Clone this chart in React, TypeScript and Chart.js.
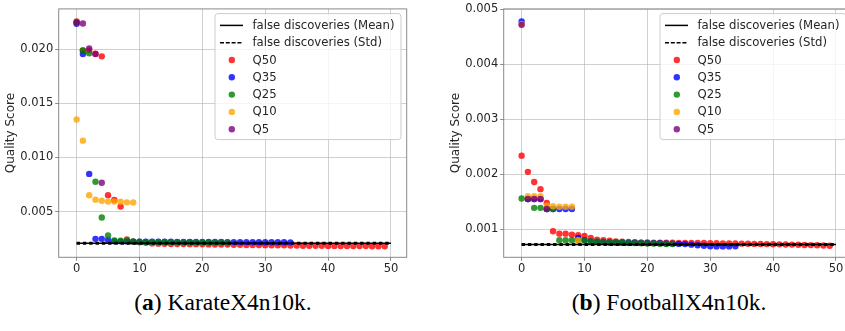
import React, { useEffect, useRef } from "react";
import { Chart, registerables } from "chart.js";
Chart.register(...registerables);

// ---------- data ----------
const lineX = [0, 50];
const xTicks = [0, 10, 20, 30, 40, 50];

const karateMean = 0.00207;
const karateYTicks = [0.005, 0.01, 0.015, 0.02];
const karateQ50 = [
  0.02259, 0.0199, 0.0199, 0.0196, 0.01936, 0.0065, 0.00607, 0.00546, 0.00241, 0.00222,
  0.00215, 0.0021, 0.00205, 0.00203, 0.00202, 0.002, 0.002, 0.00199, 0.00198, 0.00198,
  0.00197, 0.00196, 0.00195, 0.00195, 0.00194, 0.00193, 0.00192, 0.00191, 0.0019, 0.0019,
  0.00189, 0.00188, 0.00187, 0.00187, 0.00186, 0.00185, 0.00184, 0.00184, 0.00183, 0.00183,
  0.00182, 0.00182, 0.00181, 0.00181, 0.0018, 0.0018, 0.0018, 0.00179, 0.00179, 0.00178,
];
const karateQ35 = [
  0.02238, 0.01957, 0.00848, 0.00247, 0.00247, 0.00235, 0.00225, 0.00224, 0.00223, 0.00222,
  0.00221, 0.00221, 0.0022, 0.0022, 0.0022, 0.0022, 0.00219, 0.00219, 0.00219, 0.00219,
  0.00218, 0.00218, 0.00218, 0.00218, 0.00217, 0.00217, 0.00217, 0.00217, 0.00217, 0.00216,
  0.00216, 0.00216, 0.00216, 0.00216, 0.00215,
];
const karateQ25 = [
  0.0225, 0.01991, 0.01964, 0.00775, 0.00445, 0.00278, 0.00232, 0.0023, 0.0023, 0.00223,
  0.0022, 0.00219, 0.00219, 0.00218, 0.00218, 0.00217, 0.00217, 0.00216, 0.00216, 0.00215,
  0.00215, 0.00214, 0.00214, 0.00213, 0.00213,
];
const karateQ10 = [0.01351, 0.01156, 0.0065, 0.0061, 0.006, 0.00592, 0.00592, 0.0059, 0.00585, 0.00583];
const karateQ5 = [0.0225, 0.0224, 0.0201, 0.01957, 0.00766];

const footballMean = 0.000724;
const footballYTicks = [0.001, 0.002, 0.003, 0.004, 0.005];
const footballQ50 = [
  0.00234, 0.002045, 0.00186, 0.00173, 0.00148, 0.000964, 0.00092, 0.00092, 0.0009, 0.00089,
  0.00088, 0.00084, 0.00081, 0.0008, 0.00079, 0.00078, 0.000775, 0.00077, 0.000765, 0.00076,
  0.000758, 0.000757, 0.000756, 0.000755, 0.000754, 0.000753, 0.000752, 0.000751, 0.00075, 0.00075,
  0.000748, 0.000746, 0.000744, 0.000742, 0.00074, 0.000738, 0.000736, 0.000734, 0.000732, 0.00073,
  0.000728, 0.000726, 0.000724, 0.000721, 0.000718, 0.000715, 0.000712, 0.000709, 0.000705, 0.0007,
];
const footballQ35 = [
  0.00478, 0.00155, 0.00155, 0.00155, 0.00137, 0.00137, 0.00137, 0.00137, 0.00137, 0.00084,
  0.0008, 0.00078, 0.00077, 0.00077, 0.00076, 0.00076, 0.000758, 0.000756, 0.000754, 0.000752,
  0.00075, 0.000748, 0.000745, 0.000742, 0.000738, 0.000734, 0.00073, 0.00072, 0.00071, 0.0007,
  0.00069, 0.000688, 0.000688, 0.000688, 0.00069,
];
const footballQ25 = [
  0.00156, 0.00155, 0.00139, 0.00139, 0.00137, 0.00137, 0.0008, 0.0008, 0.0008, 0.0008,
  0.0008, 0.00078, 0.00078, 0.00077, 0.00076, 0.00076, 0.000755, 0.00075, 0.000748, 0.000745,
  0.000742, 0.00074, 0.000737, 0.000733, 0.00073,
];
const footballQ10 = [0.00473, 0.0016, 0.0016, 0.0016, 0.00143, 0.00142, 0.00141, 0.00141, 0.00141, 0.0008];
const footballQ5 = [0.00472, 0.00155, 0.00155, 0.00155, 0.00137];

const seriesNames = ["Q50", "Q35", "Q25", "Q10", "Q5"];
const seriesColors = [
  "rgba(255,0,0,0.8)",
  "rgba(0,0,255,0.8)",
  "rgba(0,128,0,0.8)",
  "rgba(255,165,0,0.8)",
  "rgba(128,0,128,0.8)",
];
const lineLabels = ["false discoveries (Mean)", "false discoveries (Std)"];

// ---------- style ----------
const FONT = "'DejaVu Sans', sans-serif";
const TEXT = "#262626";
const SPINE = "#8a8a8a";
const GRID = "rgba(176,176,176,0.6)";

const frameAndLegend = {
  id: "frameAndLegend",
  afterDraw(chart: any) {
    const { ctx, chartArea } = chart;
    ctx.save();
    // frame
    ctx.strokeStyle = SPINE;
    ctx.lineWidth = 1;
    ctx.strokeRect(chartArea.left, chartArea.top, chartArea.right - chartArea.left, chartArea.bottom - chartArea.top);
    // legend
    const w = 186;
    const h = 126;
    const x0 = chartArea.right - 5.7 - w;
    const y0 = chartArea.top + 4.7;
    const r = 3;
    ctx.beginPath();
    ctx.moveTo(x0 + r, y0);
    ctx.lineTo(x0 + w - r, y0);
    ctx.arcTo(x0 + w, y0, x0 + w, y0 + r, r);
    ctx.lineTo(x0 + w, y0 + h - r);
    ctx.arcTo(x0 + w, y0 + h, x0 + w - r, y0 + h, r);
    ctx.lineTo(x0 + r, y0 + h);
    ctx.arcTo(x0, y0 + h, x0, y0 + h - r, r);
    ctx.lineTo(x0, y0 + r);
    ctx.arcTo(x0, y0, x0 + r, y0, r);
    ctx.closePath();
    ctx.fillStyle = "rgba(255,255,255,0.8)";
    ctx.fill();
    ctx.strokeStyle = "#cccccc";
    ctx.stroke();

    ctx.font = `11.7px ${FONT}`;
    ctx.textBaseline = "middle";
    ctx.textAlign = "left";
    const labels = [...lineLabels, ...seriesNames];
    labels.forEach((lab, i) => {
      const cy = y0 + 11.8 + 17.3 * i;
      if (i < 2) {
        ctx.beginPath();
        ctx.strokeStyle = "#000";
        ctx.lineWidth = 1.5;
        ctx.setLineDash(i === 1 ? [4, 1.8] : []);
        ctx.moveTo(x0 + 5, cy);
        ctx.lineTo(x0 + 28, cy);
        ctx.stroke();
        ctx.setLineDash([]);
      } else {
        ctx.beginPath();
        ctx.fillStyle = seriesColors[i - 2];
        ctx.arc(x0 + 16.8, cy, 3.2, 0, Math.PI * 2);
        ctx.fill();
      }
      ctx.fillStyle = TEXT;
      ctx.fillText(lab, x0 + 37.5, cy + 0.5);
    });
    ctx.restore();
  },
};

type PanelData = {
  mean: number;
  series: number[][];
  yMin: number;
  yMax: number;
  yTicks: number[];
};

function makeConfig(d: PanelData): any {
  const scatterSets = d.series.map((vals, k) => ({
    type: "scatter",
    label: seriesNames[k],
    data: vals.map((y, i) => ({ x: i, y })),
    backgroundColor: seriesColors[k],
    borderWidth: 0,
    pointRadius: 3.2,
    order: 6 - k,
  }));
  const lineSets = [
    {
      type: "line",
      label: lineLabels[0],
      data: lineX.map((x) => ({ x, y: d.mean })),
      borderColor: "#000",
      borderWidth: 1.5,
      pointRadius: 0,
      order: 0,
    },
    {
      type: "line",
      label: lineLabels[1],
      data: lineX.map((x) => ({ x, y: d.mean })),
      borderColor: "#000",
      borderWidth: 3,
      borderDash: [3.4, 2.9],
      pointRadius: 0,
      order: 1,
    },
  ];
  return {
    type: "scatter",
    data: { datasets: [...lineSets, ...scatterSets] },
    options: {
      responsive: false,
      animation: false,
      devicePixelRatio: 1,
      layout: { padding: { left: 0, top: 6, right: 13.3, bottom: 0 } },
      plugins: { legend: { display: false }, tooltip: { enabled: false } },
      scales: {
        x: {
          type: "linear",
          min: -2.85,
          max: 52.5,
          afterFit: (s: any) => {
            s.height = 22.7;
          },
          afterBuildTicks: (s: any) => {
            s.ticks = xTicks.map((v) => ({ value: v }));
          },
          grid: { color: GRID, tickColor: SPINE, tickLength: 3.5, drawTicks: true },
          border: { display: false },
          ticks: {
            font: { family: FONT, size: 11.5 },
            color: TEXT,
            padding: 1,
            maxRotation: 0,
            autoSkip: false,
            callback: (v: any) => String(v),
          },
        },
        y: {
          type: "linear",
          min: d.yMin,
          max: d.yMax,
          afterFit: (s: any) => {
            s.width = 58.7;
          },
          afterBuildTicks: (s: any) => {
            s.ticks = d.yTicks.map((v) => ({ value: v }));
          },
          grid: { color: GRID, tickColor: SPINE, tickLength: 3.5, drawTicks: true },
          border: { display: false },
          ticks: {
            font: { family: FONT, size: 11.5 },
            color: TEXT,
            padding: 2,
            autoSkip: false,
            callback: (v: any) => Number(v).toFixed(3),
          },
          title: {
            display: true,
            text: "Quality Score",
            font: { family: FONT, size: 12 },
            color: TEXT,
            padding: { top: 4, bottom: 0 },
          },
        },
      },
    },
    plugins: [frameAndLegend],
  };
}

function Panel({ data, left }: { data: PanelData; left: number }) {
  const ref = useRef<HTMLCanvasElement>(null);
  useEffect(() => {
    const chart = new Chart(ref.current as HTMLCanvasElement, makeConfig(data));
    return () => chart.destroy();
  }, []);
  return (
    <canvas
      ref={ref}
      width={420}
      height={280}
      style={{ position: "absolute", left, top: 0, width: 420, height: 280 }}
    />
  );
}

const karate: PanelData = {
  mean: karateMean,
  series: [karateQ50, karateQ35, karateQ25, karateQ10, karateQ5],
  yMin: 0.000765,
  yMax: 0.02375,
  yTicks: karateYTicks,
};
const football: PanelData = {
  mean: footballMean,
  series: [footballQ50, footballQ35, footballQ25, footballQ10, footballQ5],
  yMin: 0.00049,
  yMax: 0.00501,
  yTicks: footballYTicks,
};

const captionStyle: React.CSSProperties = {
  position: "absolute",
  top: 289,
  width: 420,
  textAlign: "center",
  fontFamily: "'Liberation Serif', 'Times New Roman', serif",
  fontSize: 23.5,
  lineHeight: "26px",
  color: "#000",
  whiteSpace: "nowrap",
};

export default function App() {
  return (
    <div
      style={{
        position: "fixed",
        left: 0,
        top: 0,
        width: 845,
        height: 331,
        overflow: "hidden",
        background: "#fff",
      }}
    >
      <Panel data={karate} left={0} />
      <Panel data={football} left={444.6} />
      <div style={{ ...captionStyle, left: 223 - 210 }}>
        (<b>a</b>) KarateX4n10k.
      </div>
      <div style={{ ...captionStyle, left: 669 - 210 }}>
        (<b>b</b>) FootballX4n10k.
      </div>
    </div>
  );
}
